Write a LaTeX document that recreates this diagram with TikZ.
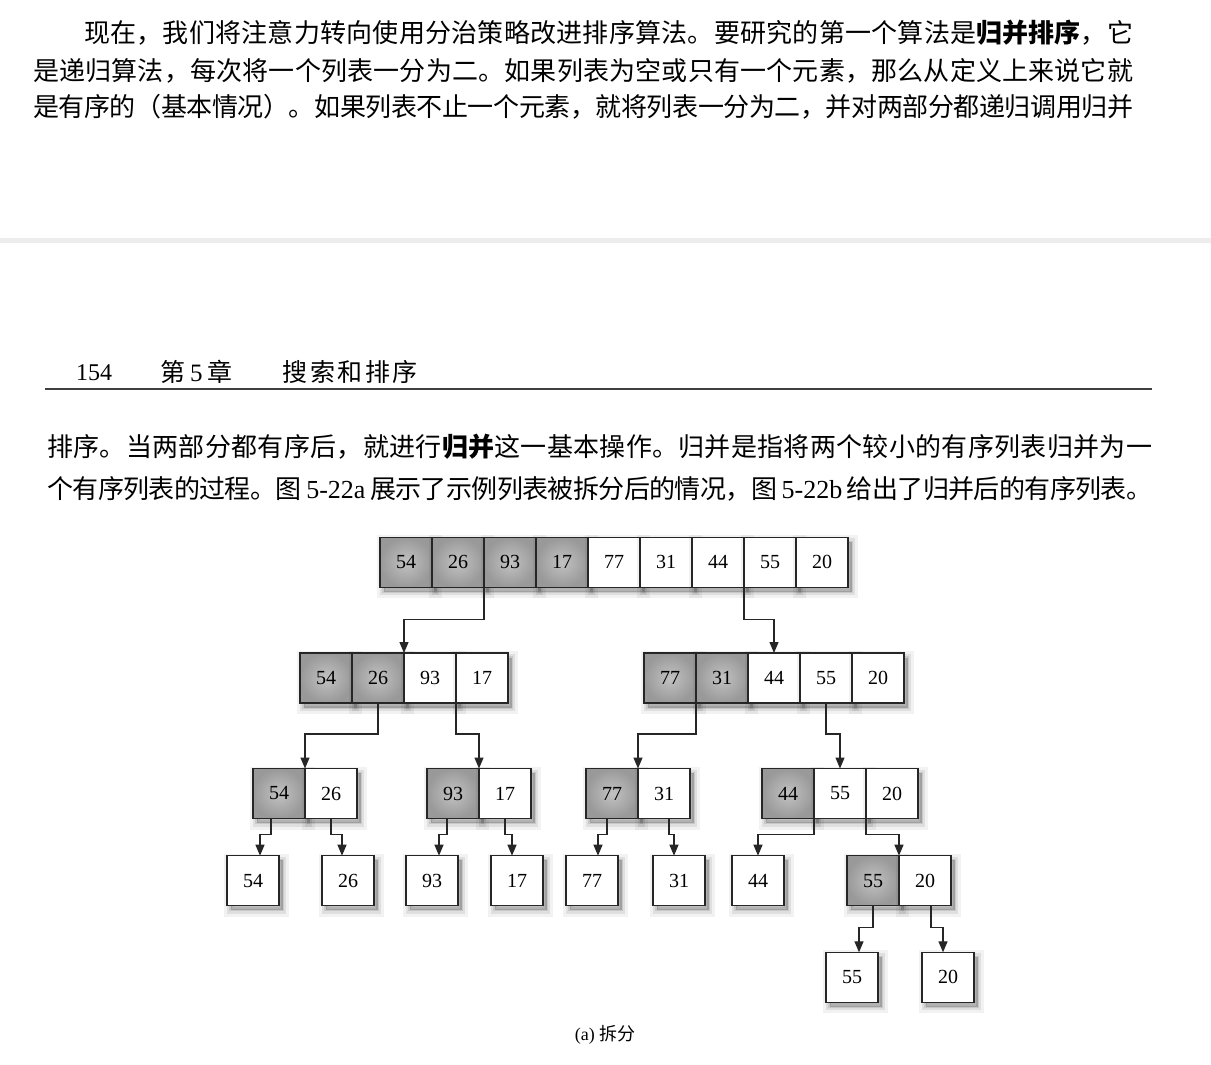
\documentclass[tikz,border=0pt]{standalone}
\usepackage{fontspec}
\setmainfont{Liberation Serif}
\newfontfamily\cjk{Noto Sans CJK SC}
\usetikzlibrary{arrows.meta,positioning}

% one line of text, stretched to a given width (glue after each character)
\makeatletter
\newcommand\spreadline[2]{\makebox[#1][s]{\@tfor\cjkch:=#2\do{{\cjkch}\hskip 0pt plus 1fil minus 1pt}\unskip}}
\makeatother

\begin{document}
\begin{tikzpicture}[
    x=1pt, y=1pt,
    soft/.style={
        preaction={draw=black, draw opacity=0.05, line width=13pt, transform canvas={shift={(3.5pt,-4.5pt)}}},
        preaction={draw=black, draw opacity=0.08, line width=7pt, transform canvas={shift={(3.5pt,-4.5pt)}}},
        preaction={draw=black, draw opacity=0.10, line width=2.5pt, transform canvas={shift={(3.5pt,-4.5pt)}}},
        preaction={fill=black, fill opacity=0.2, transform canvas={shift={(3.5pt,-4.5pt)}}}},
    cell/.style={soft, draw=black!85, line width=1.4pt, minimum width=52pt, minimum height=50pt, inner sep=0pt, outer sep=0pt, fill=white,
        font=\fontsize{20}{20}\selectfont},
    dark/.style={cell, inner color=black!24, outer color=black!40},
    txt/.style={anchor=base west, inner sep=0pt, font=\cjk\fontsize{26}{30}\selectfont},
    arrow/.style={-{Triangle[length=11pt,width=9pt]}, line width=1.3pt, draw=black!85}
]
    \useasboundingbox (0,0) rectangle (1211,-1065);
    \fill[white] (0,0) rectangle (1211,-1065);

    % text above the figure
    \node[txt] (p1a) at (84,-43) {\spreadline{1049pt}{现在，我们将注意力转向使用分治策略改进排序算法。要研究的第一个算法是{\bfseries 归并排序}，它}};
    \node[txt] (p1b) at (33,-81) {\spreadline{1100pt}{是递归算法，每次将一个列表一分为二。如果列表为空或只有一个元素，那么从定义上来说它就}};
    \node[txt] (p1c) at (33,-117) {\spreadline{1100pt}{是有序的（基本情况）。如果列表不止一个元素，就将列表一分为二，并对两部分都递归调用归并}};
    \fill[black!7] (0,-238) rectangle (1211,-242.5);

    \node[anchor=base west, inner sep=0pt, font=\fontsize{24}{24}\selectfont] (pgno) at (76,-380) {154};
    \node[txt, font=\cjk\fontsize{25}{25}\selectfont] (chap) at (160,-381) {第\hspace{5pt}{\rmfamily 5}\hspace{5pt}章\hspace{50pt}\spreadline{135pt}{搜索和排序}};
    \draw[line width=1.5pt, black!75] (45,-389) -- (1152,-389);

    \node[txt] (p2a) at (47,-456) {\spreadline{1105pt}{排序。当两部分都有序后，就进行{\bfseries 归并}这一基本操作。归并是指将两个较小的有序列表归并为一}};
    \node[txt] (p2b) at (47,-498) {\spreadline{1105pt}{个有序列表的过程。图{\rmfamily\ 5-22a\ }展示了示例列表被拆分后的情况，图{\rmfamily\ 5-22b\ }给出了归并后的有序列表。}};

    % level 1
    \node[dark, anchor=north west] (t1) at (380,-537.3) {54};
    \node[dark, right=0pt of t1] (t2) {26};
    \node[dark, right=0pt of t2] (t3) {93};
    \node[dark, right=0pt of t3] (t4) {17};
    \node[cell, right=0pt of t4] (t5) {77};
    \node[cell, right=0pt of t5] (t6) {31};
    \node[cell, right=0pt of t6] (t7) {44};
    \node[cell, right=0pt of t7] (t8) {55};
    \node[cell, right=0pt of t8] (t9) {20};

    % level 2
    \node[dark, anchor=north west] (la1) at (300,-653) {54};
    \node[dark, right=0pt of la1] (la2) {26};
    \node[cell, right=0pt of la2] (la3) {93};
    \node[cell, right=0pt of la3] (la4) {17};
    \node[dark, anchor=north west] (lb1) at (644,-653) {77};
    \node[dark, right=0pt of lb1] (lb2) {31};
    \node[cell, right=0pt of lb2] (lb3) {44};
    \node[cell, right=0pt of lb3] (lb4) {55};
    \node[cell, right=0pt of lb4] (lb5) {20};

    % level 3
    \node[dark, anchor=north west] (ma1) at (253,-768.5) {54};
    \node[cell, right=0pt of ma1] (ma2) {26};
    \node[dark, anchor=north west] (mb1) at (427,-768.5) {93};
    \node[cell, right=0pt of mb1] (mb2) {17};
    \node[dark, anchor=north west] (mc1) at (586,-768.5) {77};
    \node[cell, right=0pt of mc1] (mc2) {31};
    \node[dark, anchor=north west] (md1) at (762,-768.5) {44};
    \node[cell, right=0pt of md1] (md2) {55};
    \node[cell, right=0pt of md2] (md3) {20};

    % level 4
    \node[cell, anchor=north west] (s54) at (227,-855.7) {54};
    \node[cell, anchor=north west] (s26) at (322,-855.7) {26};
    \node[cell, anchor=north west] (s93) at (406,-855.7) {93};
    \node[cell, anchor=north west] (s17) at (491,-855.7) {17};
    \node[cell, anchor=north west] (s77) at (566,-855.7) {77};
    \node[cell, anchor=north west] (s31) at (653,-855.7) {31};
    \node[cell, anchor=north west] (s44) at (732,-855.7) {44};
    \node[dark, anchor=north west] (pa1) at (847,-855.7) {55};
    \node[cell, right=0pt of pa1] (pa2) {20};

    % level 5
    \node[cell, anchor=north west] (e55) at (826,-952.3) {55};
    \node[cell, anchor=north west] (e20) at (922,-952.3) {20};

    \node[font=\fontsize{18}{18}\selectfont] (cap) at (605,-1035) {(a) {\cjk 拆分}};

    \draw[arrow] (t3.south west) -- ++(0,-32) -| (la3.north west);
    \draw[arrow] (t8.south west) -- ++(0,-32) -| (lb3.north);

    \draw[arrow] (la2.south) -- ++(0,-31) -| (ma1.north east);
    \draw[arrow] (la4.south west) -- ++(0,-31) -| (mb1.north east);
    \draw[arrow] (lb2.south west) -- ++(0,-31) -| (mc1.north east);
    \draw[arrow] (lb4.south) -- ++(0,-31) -| (md2.north);

    \draw[arrow] ([xshift=-8pt]ma1.south) -- ++(0,-16) -| ([xshift=7pt]s54.north);
    \draw[arrow] (ma2.south) -- ++(0,-16) -| ([xshift=-6pt]s26.north);
    \draw[arrow] ([xshift=-6pt]mb1.south) -- ++(0,-16) -| ([xshift=7pt]s93.north);
    \draw[arrow] (mb2.south) -- ++(0,-16) -| ([xshift=-5pt]s17.north);
    \draw[arrow] ([xshift=-5pt]mc1.south) -- ++(0,-16) -| ([xshift=6pt]s77.north);
    \draw[arrow] ([xshift=5pt]mc2.south) -- ++(0,-16) -| ([xshift=-5pt]s31.north);
    \draw[arrow] (md1.south east) -- ++(0,-16) -| (s44.north);
    \draw[arrow] (md2.south east) -- ++(0,-16) -| (pa1.north east);

    \draw[arrow] (pa1.south) -- ++(0,-22) -| ([xshift=7pt]e55.north);
    \draw[arrow] ([xshift=6pt]pa2.south) -- ++(0,-22) -| ([xshift=-5pt]e20.north);
\end{tikzpicture}
\end{document}
